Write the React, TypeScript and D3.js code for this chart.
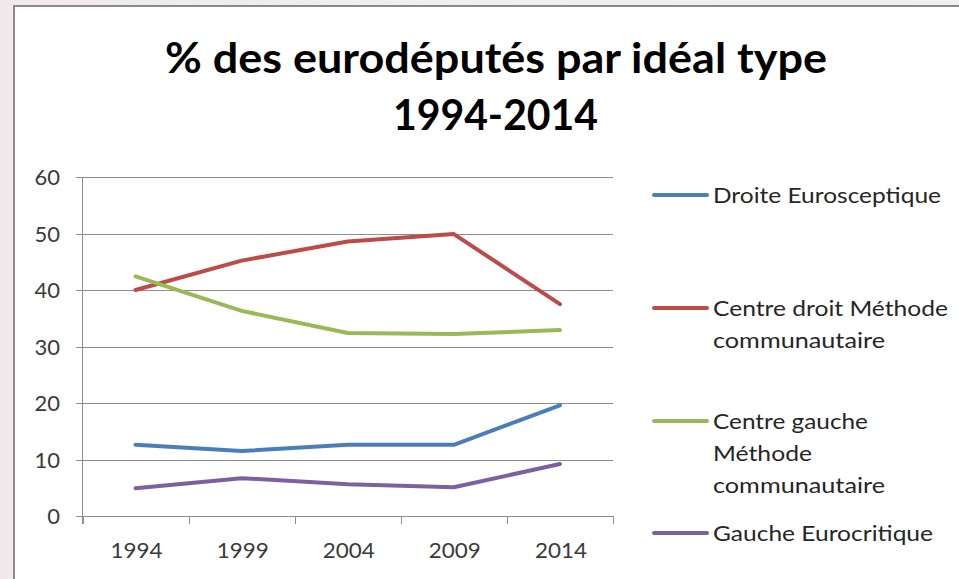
import React from "react";
import * as d3 from "d3";

const years = ["1994", "1999", "2004", "2009", "2014"];
const droiteEurosceptique = [12.6, 11.5, 12.6, 12.6, 19.6];
const centreDroit = [40.0, 45.2, 48.6, 49.9, 37.5];
const centreGauche = [42.4, 36.3, 32.4, 32.2, 32.9];
const gaucheEurocritique = [4.9, 6.7, 5.6, 5.1, 9.2];
const yTicks = [0, 10, 20, 30, 40, 50, 60];

const seriesNames = [
  ["Droite Eurosceptique"],
  ["Centre droit Méthode", "communautaire"],
  ["Centre gauche", "Méthode", "communautaire"],
  ["Gauche Eurocritique"],
];
const legendWidths = [[228], [235, 172], [155, 99, 172], [220]];
const seriesValues = [droiteEurosceptique, centreDroit, centreGauche, gaucheEurocritique];
const seriesColors = ["#4A7EBB", "#BE4B48", "#98B954", "#7D60A0"];

const titleLines = ["% des eurodéputés par idéal type", "1994-2014"];

export default function App() {
  const W = 959, H = 579;
  const left = 82.5, right = 613, top = 177, bottom = 516;
  const x = d3.scaleBand().domain(years).range([left, right]);
  const y = d3.scaleLinear().domain([0, 60]).range([bottom, top]);
  const line = d3
    .line<number>()
    .x((_, i) => (x(years[i]) as number) + x.bandwidth() / 2)
    .y((d) => y(d));

  const font = "Lato, 'Open Sans', sans-serif";
  const legendY = [195, 308, 421, 533];
  const lineH = 32;

  const xTickPos = years.map((yr) => x(yr) as number).concat([right]);

  return (
    <svg width={W} height={H} style={{ position: "absolute", left: 0, top: 0 }} fontFamily={font}>
      <defs>
        <linearGradient id="bg" x1="0" y1="0" x2="1" y2="0">
          <stop offset="0" stopColor="#f1e9ec" />
          <stop offset="0.5" stopColor="#eef0f3" />
          <stop offset="1" stopColor="#f0eef0" />
        </linearGradient>
      </defs>
      <rect x={0} y={0} width={W} height={H} fill="url(#bg)" />
      <rect x={14} y={6} width={W} height={H} fill="#ffffff" stroke="#8a8a8a" strokeWidth={2} />

      {/* title */}
      <text x={496} y={73} textAnchor="middle" fontSize={42} fontWeight="bold" fill="#000"
        textLength={662} lengthAdjust="spacingAndGlyphs">{titleLines[0]}</text>
      <text x={495.5} y={130} textAnchor="middle" fontSize={42} fontWeight="bold" fill="#000"
        textLength={205} lengthAdjust="spacingAndGlyphs">{titleLines[1]}</text>

      {/* gridlines */}
      {yTicks.map((t) => (
        <line key={"g" + t} x1={76} x2={right} y1={Math.round(y(t)) + 0.5} y2={Math.round(y(t)) + 0.5}
          stroke="#8e8e8e" strokeWidth={1} />
      ))}
      {/* y axis */}
      <line x1={left} x2={left} y1={top} y2={bottom + 8} stroke="#8e8e8e" strokeWidth={1} />
      {/* x ticks */}
      {xTickPos.map((p, i) => (
        <line key={"xt" + i} x1={Math.round(p) + 0.5} x2={Math.round(p) + 0.5} y1={bottom} y2={bottom + 8}
          stroke="#8e8e8e" strokeWidth={1} />
      ))}
      {/* y labels */}
      {yTicks.map((t) => (
        <text key={"yl" + t} x={60} y={y(t) + 8} textAnchor="end" fontSize={22} fill="#3a3a3a">{t}</text>
      ))}
      {/* x labels */}
      {years.map((yr) => (
        <text key={"xl" + yr} x={(x(yr) as number) + x.bandwidth() / 2 + 1} y={558} textAnchor="middle"
          fontSize={22} fill="#3a3a3a" textLength={52} lengthAdjust="spacingAndGlyphs">{yr}</text>
      ))}

      {/* series */}
      {seriesValues.map((vals, i) => (
        <path key={"s" + i} d={line(vals) as string} fill="none" stroke={seriesColors[i]} strokeWidth={4}
          strokeLinecap="round" strokeLinejoin="round" />
      ))}

      {/* legend */}
      {seriesNames.map((names, i) => (
        <g key={"lg" + i}>
          <line x1={654} x2={707} y1={legendY[i]} y2={legendY[i]} stroke={seriesColors[i]} strokeWidth={4}
            strokeLinecap="round" />
          {names.map((n, j) => (
            <text key={j} x={713} y={legendY[i] + 8 + j * lineH} fontSize={22} fill="#262626"
              textLength={legendWidths[i][j]} lengthAdjust="spacingAndGlyphs">{n}</text>
          ))}
        </g>
      ))}
    </svg>
  );
}
